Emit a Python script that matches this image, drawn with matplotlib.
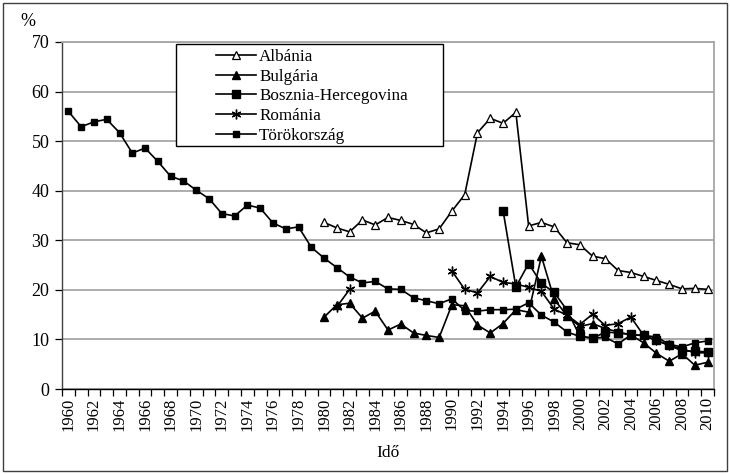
import numpy as np
import matplotlib
matplotlib.use("Agg")
import matplotlib.pyplot as plt
from matplotlib.patches import Rectangle

plt.rcParams['font.family'] = ['Liberation Serif', 'DejaVu Serif']

years = list(range(1960, 2011))

albania_years = list(range(1980, 2011))
albania = [33.6, 32.5, 31.7, 34.1, 33.1, 34.6, 34.0, 33.2, 31.5, 32.3,
           35.9, 39.2, 51.7, 54.6, 53.6, 55.8, 32.9, 33.6, 32.7, 29.5,
           29.1, 26.8, 26.3, 23.9, 23.5, 22.7, 21.9, 21.1, 20.2, 20.3, 20.1]

bulgaria_years = list(range(1980, 2011))
bulgaria = [14.5, 17.0, 17.3, 14.3, 15.7, 11.9, 13.1, 11.3, 10.8, 10.4,
            17.0, 16.8, 12.9, 11.3, 13.2, 16.0, 15.5, 26.8, 18.1, 14.8,
            12.6, 13.2, 12.2, 11.5, 10.9, 9.3, 7.2, 5.6, 7.1, 4.8, 5.4]

bosnia_years = list(range(1994, 2011))
bosnia = [36.0, 20.6, 25.3, 21.3, 19.5, 15.9, 10.7, 10.2, 11.5, 11.3,
          11.0, 10.8, 9.8, 8.8, 7.7, 7.6, 7.5]

romania_years = [1981, 1982] + list(range(1990, 2011))
romania = [16.6, 20.1,
           23.8, 20.1, 19.4, 22.7, 21.5, 21.2, 20.5, 19.7, 16.1, 14.9,
           13.0, 15.1, 12.8, 13.2, 14.5, 10.8, 9.8, 8.8, 8.1, 7.3, 7.3]

turkey_years = list(range(1960, 2011))
turkey = [56.0, 52.9, 53.9, 54.4, 51.7, 47.6, 48.6, 45.9, 42.9, 42.0,
          40.1, 38.4, 35.4, 34.9, 37.1, 36.5, 33.5, 32.3, 32.7, 28.6,
          26.4, 24.5, 22.6, 21.4, 21.7, 20.2, 20.1, 18.4, 17.8, 17.2,
          18.2, 15.8, 15.7, 16.0, 16.0, 16.1, 17.4, 14.9, 13.5, 11.5,
          10.6, 10.3, 10.4, 9.1, 10.9, 10.8, 10.5, 9.0, 8.5, 9.3, 9.7]

labels = ["Albánia", "Bulgária", "Bosznia-Hercegovina", "Románia", "Törökország"]
yticks = [0, 10, 20, 30, 40, 50, 60, 70]
xtick_labels = [str(y) for y in years[::2]]


def to_full(ys, vals):
    arr = np.full(len(years), np.nan)
    for y, v in zip(ys, vals):
        arr[y - years[0]] = v
    return arr


W, H = 730, 474
fig = plt.figure(figsize=(W / 100, H / 100), dpi=100)
L, R, T, B = 62, 714, 42, 389
ax = fig.add_axes([L / W, 1 - B / H, (R - L) / W, (B - T) / H])

x = np.arange(len(years))
lw = 1.2
ax.plot(x, to_full(albania_years, albania), color='black', lw=lw, marker='^',
        markersize=5.5, markerfacecolor='white', markeredgecolor='black',
        markeredgewidth=0.9, label=labels[0], zorder=3)
ax.plot(x, to_full(bulgaria_years, bulgaria), color='black', lw=lw, marker='^',
        markersize=5.5, markerfacecolor='black', markeredgecolor='black',
        label=labels[1], zorder=3)
ax.plot(x, to_full(bosnia_years, bosnia), color='black', lw=lw, marker='s',
        markersize=6.2, markerfacecolor='black', markeredgecolor='black',
        label=labels[2], zorder=3)
ax.plot(x, to_full(romania_years, romania), color='black', lw=lw, marker=(6, 2, 0),
        markersize=7, markeredgewidth=1.0, markeredgecolor='black',
        label=labels[3], zorder=3)
ax.plot(x, to_full(turkey_years, turkey), color='black', lw=lw, marker='s',
        markersize=5, markerfacecolor='black', markeredgecolor='black',
        label=labels[4], zorder=3)

ax.set_xlim(-0.5, len(years) - 0.5)
ax.set_ylim(0, 70)
ax.set_yticks(yticks)
ax.set_yticklabels([str(v) for v in yticks], fontsize=13)
ax.yaxis.grid(True, color='#a6a6a6', lw=1.3)
ax.set_axisbelow(True)

ax.set_xticks(x[::2])
ax.set_xticklabels(xtick_labels, rotation=90, fontsize=12)
ax.set_xticks(np.arange(-0.5, len(years)), minor=True)
ax.tick_params(axis='x', which='major', length=0, pad=6)
ax.tick_params(axis='x', which='minor', length=5, width=0.9, direction='out', color='black')
ax.tick_params(axis='y', length=5, width=0.9, direction='out', color='black', pad=4)

for s in ['top', 'right']:
    ax.spines[s].set_color('#a6a6a6')
    ax.spines[s].set_linewidth(1.3)
ax.spines['left'].set_color('#404040')
ax.spines['left'].set_linewidth(1.0)
ax.spines['bottom'].set_color('black')
ax.spines['bottom'].set_linewidth(1.0)

ax.set_xlabel("Idő", fontsize=12.5, labelpad=10)
fig.text(28 / W, 1 - 22 / H, "%", fontsize=13, ha='center', va='center')

# legend frame drawn separately (wide Excel-style box)
fig.patches.append(Rectangle((176 / W, 1 - 146 / H), (443 - 176) / W, (146 - 44) / H,
                             transform=fig.transFigure, facecolor='white',
                             edgecolor='black', lw=1.0, zorder=5))
handles, hl = ax.get_legend_handles_labels()
leg = fig.legend(handles, hl, loc='upper left', bbox_to_anchor=(211 / W, 1 - 44 / H),
                 bbox_transform=fig.transFigure, fontsize=12.3, frameon=False,
                 handlelength=2.35, labelspacing=0.23, borderpad=0.27,
                 handletextpad=0.2, borderaxespad=0)
leg.set_zorder(6)

fig.patches.append(Rectangle((3 / W, 3 / H), 724 / W, 468 / H, transform=fig.transFigure,
                             fill=False, edgecolor='#404040', lw=1.0))

fig.savefig("out.png", dpi=100)
